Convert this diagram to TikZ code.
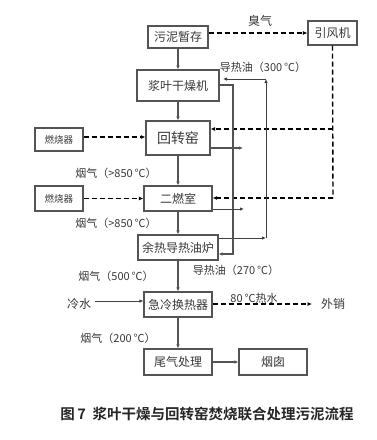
\documentclass[tikz,border=0pt]{standalone}
\usepackage{fontspec}
\setmainfont{Noto Sans CJK SC}
\newfontfamily\cjkbold{Noto Sans CJK SC Bold}
\usetikzlibrary{arrows.meta}
\definecolor{linegray}{gray}{0.33}
\definecolor{txtgray}{gray}{0.22}
\begin{document}
\begin{tikzpicture}[x=1pt,y=-1pt,
  box/.style={draw=linegray,line width=1.1pt,text=txtgray,inner sep=0pt,font=\fontsize{12}{12}\selectfont},
  lbl/.style={text=txtgray,inner sep=0pt,font=\fontsize{11}{11}\selectfont},
  flow/.style={draw=linegray,line width=1.2pt,-{Latex[length=4pt,width=3.5pt]}},
  thin/.style={draw=black!75,line width=1pt,-{Latex[length=4pt,width=3.5pt]}},
  dsh/.style={draw=black,line width=1.4pt,dash pattern=on 5pt off 3pt,-{Latex[length=4.5pt,width=4pt]}},
  dshline/.style={draw=black,line width=1.4pt,dash pattern=on 5pt off 3pt}]
\useasboundingbox (0,0) rectangle (377,440);
% boxes
\node[box,minimum width=60pt,minimum height=22pt] (wn) at (178,37) {污泥暂存};
\node[box,minimum width=49pt,minimum height=24pt] (yf) at (332.5,33) {引风机};
\node[box,minimum width=82pt,minimum height=31pt] (gz) at (178,85.5) {浆叶干燥机};
\node[box,minimum width=64pt,minimum height=34pt,font=\fontsize{14}{14}\selectfont] (hz) at (178,138) {回转窑};
\node[box,minimum width=48pt,minimum height=23pt,font=\fontsize{9.5}{9.5}\selectfont] (rs1) at (59,139.5) {燃烧器};
\node[box,minimum width=68pt,minimum height=25pt] (er) at (178,198.5) {二燃室};
\node[box,minimum width=48pt,minimum height=25pt,font=\fontsize{9.5}{9.5}\selectfont] (rs2) at (59,198.5) {燃烧器};
\node[box,minimum width=80pt,minimum height=25pt] (yr) at (178,247.5) {余热导热油炉};
\node[box,minimum width=68pt,minimum height=25pt] (jl) at (178,304.5) {急冷换热器};
\node[box,minimum width=68pt,minimum height=26pt] (wq) at (178,362) {尾气处理};
\node[box,minimum width=68pt,minimum height=26pt] (yc) at (273,362) {烟囱};
% labels
\node[lbl,font=\fontsize{12}{12}\selectfont] (lcq) at (260,21) {臭气};
\node[lbl] (l300) at (263,67) {导热油（300\,℃）};
\node[lbl] (l850a) at (116,173) {烟气（>850\,℃）};
\node[lbl] (l850b) at (116,223) {烟气（>850\,℃）};
\node[lbl] (l270) at (236,270) {导热油（270\,℃）};
\node[lbl] (l500) at (116,276) {烟气（500\,℃）};
\node[lbl,font=\fontsize{12}{12}\selectfont] (lls) at (79,304) {冷水};
\node[lbl] (l80) at (254,298) {80\,℃热水};
\node[lbl,font=\fontsize{12}{12}\selectfont] (lwx) at (333,304) {外销};
\node[lbl] (l200) at (118,338) {烟气（200\,℃）};
\node[inner sep=0pt,text=black!85,font=\cjkbold\fontsize{14.5}{14.5}\selectfont] (cap) at (207,414) {图\,7\ \ 浆叶干燥与回转窑焚烧联合处理污泥流程};
% coordinates
\coordinate (c1) at (333,129);
\coordinate (c2) at (333,198);
\coordinate (p300a) at (266,238);
\coordinate (p300b) at (266,79);
\coordinate (p270a) at (233,85);
\coordinate (p270b) at (233,254);
\coordinate (hzout) at (243,148);
\coordinate (erout) at (244,209);
\coordinate (wxend) at (312,304);
\coordinate (lsend) at (95,301);
% main flow
\draw[flow] (wn) -- (gz);
\draw[flow] (gz) -- (hz);
\draw[flow] (hz) -- (er);
\draw[flow] (er) -- (yr);
\draw[flow] (yr) -- (jl);
\draw[flow] (jl) -- (wq);
\draw[flow] (wq) -- (yc);
% dashed
\draw[dsh] (wn.east |- 0,33) -- (yf.west |- 0,33);
\draw[dshline] (yf.south) -- (c2);
\draw[dsh] (c1) -- (hz.east |- c1);
\draw[dsh] (c2) -- (er.east |- c2);
\draw[dsh] (rs1.east |- 0,137) -- (hz.west |- 0,137);
\draw[dsh] (rs2.east) -- (er.west);
\draw[dsh] (jl.east |- 0,304) -- (wxend);
% oil loop
\draw[thin] (yr.east |- p300a) -- (p300a);
\draw[thin] (p300a) -- (p300b);
\draw[thin] (p300b) -- (223,79);
\draw[flow] (gz.east |- p270a) -- (p270a) -- (p270b) -- (yr.east |- p270b);
% outlets
\draw[flow] (hz.east |- hzout) -- (hzout);
\draw[thin] (er.east |- erout) -- (erout);
\draw[thin] (lsend) -- (jl.west |- lsend);
\end{tikzpicture}
\end{document}
